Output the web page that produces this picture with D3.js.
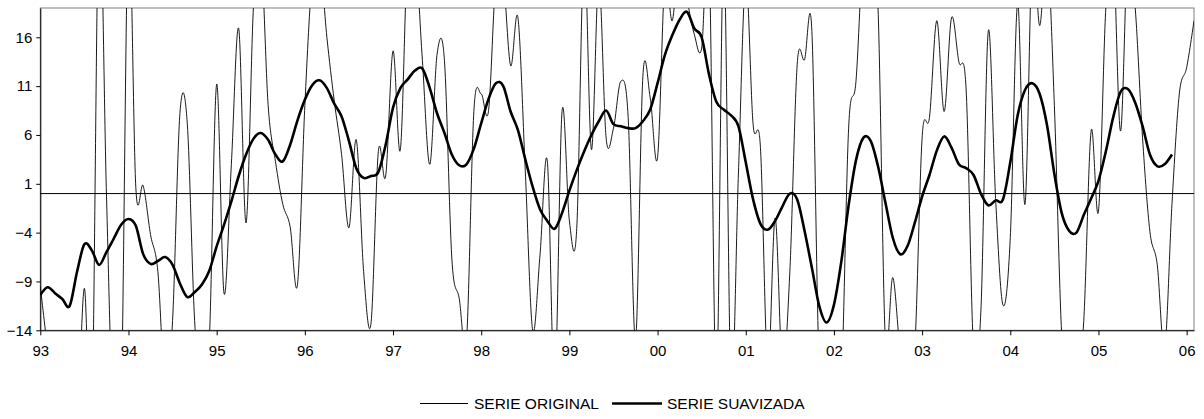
<!DOCTYPE html>
<html>
<head>
<meta charset="utf-8">
<script src="https://d3js.org/d3.v7.min.js"></script>
<style>
body{margin:0;background:#fff;}
text{font-family:Arial,"Liberation Sans",sans-serif;fill:#000;}
</style>
</head>
<body>
<div id="chart"></div>
<script>
// meses desde ene-93
var yearLabels=['93','94','95','96','97','98','99','00','01','02','03','04','05','06'];
var yTicks=[-14,-9,-4,1,6,11,16];

// serie original (mensual, m=0..157)
var serieOriginal=[
-9.5,-16,-22,-20,-18,-24,-9.7,-24,30,0,
-25,-22,28,0.6,0.8,-4.2,-8,-20,-13,8.2,
7.2,-13,-20,-15,11.2,-10.2,3,16.9,-3.0,19,
25,9.1,3.3,-1.1,-3.4,-9.3,9,22,24,16,
9.5,4,-3.5,5.5,-8,-13.3,4.3,1.8,14.6,4.5,
25,25,13.6,3.0,14.3,13.6,-6.6,-10.7,-15,8.4,
10.2,8.5,22,22,13.1,18,2.3,-14,-6.3,3.3,
-20,8.4,-2.8,-3.6,25,4.5,22,5.7,6.7,11.5,
7.8,-15,12,9.8,3.7,22,17.7,25,20,16.3,
14.9,25,-20,25,-20,2,22,7.1,4.7,-18,
-2.5,-18,-8,13.2,13.7,16.6,-18,-20,-25,-20,
6.7,11.5,25,25,19,-15,-8.6,-16,-20,-16,
5.7,7.8,17.7,8.4,18,13.5,10.5,-16,-12,16.6,
-0.5,-11.4,-4.5,19.5,-1.1,25,17.2,25,9,-14.5,
-20,-20,-13,6.4,-1.8,19,25,6.4,25,19,
5.7,-3.9,-7.3,-16,-1.1,10.2,12.9,17.7
];

// serie suavizada (m=0..154)
var serieSuavizada=[
-10.4,-9.6,-10.2,-10.8,-11.5,-8.0,-5.2,-5.8,-7.3,-6.0,
-4.6,-3.2,-2.6,-3.3,-6.2,-7.2,-6.9,-6.5,-7.3,-9.2,
-10.6,-10.1,-9.3,-7.9,-5.4,-3.2,-0.8,1.8,4.0,5.6,
6.2,5.5,4.0,3.3,5.0,7.5,9.6,11.1,11.6,10.8,
9.2,7.9,5.4,2.6,1.6,1.8,2.2,5.0,8.8,10.8,
11.7,12.6,12.8,10.8,8.2,6.2,4.0,2.9,3.0,4.6,
7.2,9.7,11.3,11.0,8.4,6.5,3.5,0.7,-1.6,-2.8,
-3.6,-2.0,0.3,2.4,4.3,6.0,7.4,8.5,7.1,6.9,
6.7,6.7,7.4,8.6,11.3,14.2,16.2,17.8,18.6,16.9,
16.0,12.2,9.4,8.6,8.0,6.9,3.2,-0.6,-3.1,-3.7,
-2.8,-1.3,0.0,-0.6,-3.8,-7.6,-11.5,-13.2,-11.4,-7.0,
-1.2,3.4,5.7,5.4,2.8,-0.9,-4.5,-6.2,-5.4,-3.0,
-0.3,1.9,4.4,5.85,4.7,3.0,2.6,1.9,0.0,-1.2,
-0.7,-0.6,3.2,8.0,10.6,11.3,10.2,7.0,2.0,-2.0,
-3.8,-4.0,-2.2,-0.5,1.3,4.3,7.8,10.4,10.7,9.3,
6.9,4.0,2.8,3.0,4.0
];

var W=1204,H=419;
var mLeft=40.3,mRight=1194,mTop=8,mBottom=330.3;

var svg=d3.select('#chart').append('svg').attr('width',W).attr('height',H);

var x=d3.scaleLinear().domain([0,157]).range([mLeft,mRight]);
var y=d3.scaleLinear().domain([-14,19]).range([mBottom,mTop]);

svg.append('defs').append('clipPath').attr('id','plotClip')
    .append('rect').attr('x',mLeft).attr('y',mTop).attr('width',mRight-mLeft).attr('height',mBottom-mTop);

// marco del area
svg.append('rect').attr('x',mLeft).attr('y',mTop).attr('width',mRight-mLeft).attr('height',mBottom-mTop)
    .attr('fill','none').attr('stroke','#808080').attr('stroke-width',1);

// linea cero
svg.append('line').attr('x1',mLeft).attr('x2',mRight).attr('y1',y(0)).attr('y2',y(0))
    .attr('stroke','#000').attr('stroke-width',1);

var lineGen=d3.line().x((d,i)=>x(i)).y(d=>y(d)).curve(d3.curveCardinal.tension(0));
var g=svg.append('g').attr('clip-path','url(#plotClip)');
g.append('path').datum(serieOriginal).attr('d',lineGen)
    .attr('fill','none').attr('stroke','#000').attr('stroke-width',0.9);
g.append('path').datum(serieSuavizada).attr('d',lineGen)
    .attr('fill','none').attr('stroke','#000').attr('stroke-width',2.6);

// ejes
var xAxis=d3.axisBottom(x).tickValues(yearLabels.map((d,i)=>i*12))
    .tickFormat((d,i)=>yearLabels[i]).tickSize(5).tickSizeOuter(0).tickPadding(10);
var gx=svg.append('g').attr('transform','translate(0,'+mBottom+')').call(xAxis);
gx.selectAll('text').attr('font-size','15px');

var yAxis=d3.axisLeft(y).tickValues(yTicks).tickFormat(d3.format('d')).tickSize(4).tickSizeOuter(0).tickPadding(4);
var gy=svg.append('g').attr('transform','translate('+mLeft+',0)').call(yAxis);
gy.selectAll('text').attr('font-size','15px');
svg.selectAll('.domain').attr('stroke','#000');
svg.selectAll('.tick line').attr('stroke','#000');

// leyenda
var leg=svg.append('g').attr('font-size','15.5px');
leg.append('line').attr('x1',420).attr('x2',468).attr('y1',403.5).attr('y2',403.5).attr('stroke','#000').attr('stroke-width',1);
leg.append('text').attr('x',474).attr('y',409).text('SERIE ORIGINAL');
leg.append('line').attr('x1',612).attr('x2',662).attr('y1',403.5).attr('y2',403.5).attr('stroke','#000').attr('stroke-width',2.6);
leg.append('text').attr('x',667).attr('y',409).text('SERIE SUAVIZADA');
</script>
</body>
</html>
